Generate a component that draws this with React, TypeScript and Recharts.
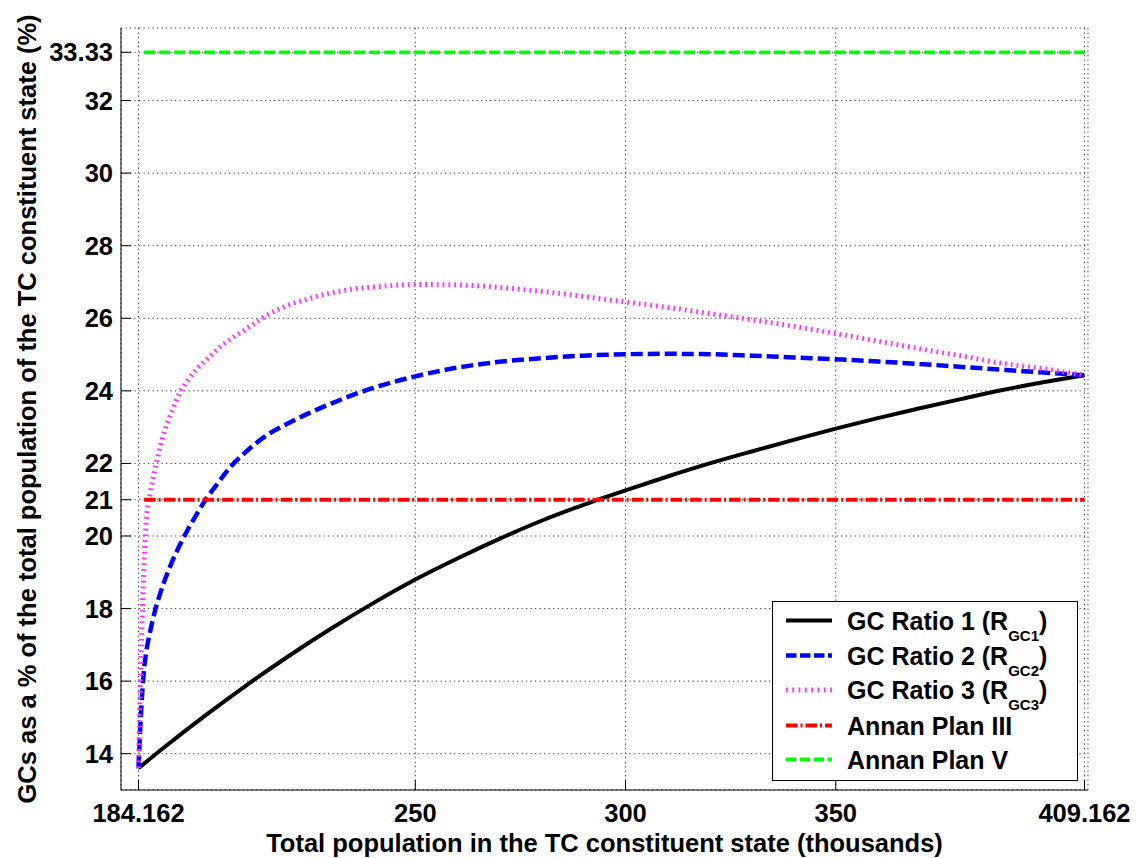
import { LineChart, Line, XAxis, YAxis, CartesianGrid, Legend } from "recharts";

const FONT = "'Liberation Sans', Arial, sans-serif";

// axis ticks
const xTicks = [184.162, 250, 300, 350, 409.162];
const xTickLabels = ["184.162", "250", "300", "350", "409.162"];
const yTicks = [14, 16, 18, 20, 21, 22, 24, 26, 28, 30, 32, 33.33];
const yTickLabels = ["14", "16", "18", "20", "21", "22", "24", "26", "28", "30", "32", "33.33"];

const xLabel = "Total population in the TC constituent state (thousands)";
const yLabel = "GCs as a % of the total population of the TC constituent state (%)";

// GC Ratio 1
const r1X = [184.162, 190, 200, 210, 220, 230, 240, 250, 260, 270, 280, 290, 300, 310, 320, 330, 340, 350, 360, 370, 380, 390, 400, 409.162];
const r1Y = [13.6, 14.15, 15.05, 15.9, 16.7, 17.45, 18.15, 18.8, 19.38, 19.92, 20.42, 20.86, 21.26, 21.64, 22.0, 22.33, 22.65, 22.96, 23.25, 23.52, 23.78, 24.03, 24.25, 24.43];

// GC Ratio 2
const r2X = [184.162, 184.5, 185, 185.5, 186, 187, 188, 189, 190, 192, 194, 196, 198, 200, 203, 206, 210, 215, 220, 225, 230, 235, 240, 250, 260, 270, 280, 290, 300, 310, 320, 330, 340, 350, 360, 370, 380, 390, 400, 409.162];
const r2Y = [13.6, 14.5, 15.6, 16.35, 16.8, 17.4, 17.9, 18.3, 18.65, 19.25, 19.75, 20.2, 20.6, 20.98, 21.45, 21.9, 22.35, 22.8, 23.12, 23.4, 23.65, 23.88, 24.08, 24.4, 24.64, 24.8, 24.9, 24.97, 25.01, 25.02, 25.01, 24.97, 24.92, 24.87, 24.81, 24.74, 24.66, 24.58, 24.5, 24.43];

// GC Ratio 3
const r3X = [184.162, 184.4, 184.7, 185, 185.5, 186, 187, 188, 189, 190, 192, 194, 196, 198, 200, 203, 206, 210, 215, 220, 225, 230, 235, 240, 250, 260, 270, 280, 290, 300, 310, 320, 330, 340, 350, 360, 370, 380, 390, 400, 409.162];
const r3Y = [13.6, 15.0, 16.5, 17.6, 19.3, 20.4, 21.2, 21.8, 22.3, 22.75, 23.4, 23.95, 24.3, 24.6, 24.82, 25.15, 25.42, 25.72, 26.1, 26.37, 26.55, 26.7, 26.8, 26.86, 26.93, 26.92, 26.85, 26.74, 26.6, 26.45, 26.3, 26.13, 25.96, 25.78, 25.58, 25.37, 25.16, 24.96, 24.75, 24.6, 24.43];

// Annan plans
const planX = [185.5, 409.162];
const planIII = 21;
const planV = 33.33;

const seriesNames = ["GC Ratio 1 (R", "GC Ratio 2 (R", "GC Ratio 3 (R", "Annan Plan III", "Annan Plan V"];
const seriesSubs = ["GC1", "GC2", "GC3", "", ""];

const toPoints = (xs: number[], ys: number[]) => xs.map((x, i) => ({ x, y: ys[i] }));

const seriesData = [
  toPoints(r1X, r1Y),
  toPoints(r2X, r2Y),
  toPoints(r3X, r3Y),
  planX.map((x) => ({ x, y: planIII })),
  planX.map((x) => ({ x, y: planV })),
];

const styles = [
  { color: "#000000", dash: undefined, width: 4, legendDash: undefined },
  { color: "#0000ff", dash: "12 5", width: 4.5, legendDash: "10.5 3.5" },
  { color: "#ff33ff", dash: "1.8 4", width: 5, legendDash: "1.8 4.5" },
  { color: "#ff0000", dash: "11.5 3 2 3", width: 4, legendDash: "11.5 3 2 3" },
  { color: "#00ff00", dash: "11 4", width: 3.8, legendDash: "10 4" },
];

const TICK_LEN = 10;

const BottomTick = (props: any) => {
  const { x, y, payload } = props;
  const i = xTicks.indexOf(payload.value);
  return (
    <g>
      <line x1={x} x2={x} y1={y} y2={y - TICK_LEN} stroke="#000" />
      <text x={x} y={y + 31.5} textAnchor="middle" fontFamily={FONT} fontSize={25.5} fontWeight="bold" fill="#000">
        {i >= 0 ? xTickLabels[i] : String(payload.value)}
      </text>
    </g>
  );
};

const TopTick = (props: any) => {
  const { x, y } = props;
  return <line x1={x} x2={x} y1={y} y2={y + TICK_LEN} stroke="#000" />;
};

const LeftTick = (props: any) => {
  const { x, y, payload } = props;
  const i = yTicks.indexOf(payload.value);
  return (
    <g>
      <line x1={x} x2={x + TICK_LEN} y1={y} y2={y} stroke="#000" />
      <text x={x - 8} y={y + 9} textAnchor="end" fontFamily={FONT} fontSize={25.5} fontWeight="bold" fill="#000">
        {i >= 0 ? yTickLabels[i] : String(payload.value)}
      </text>
    </g>
  );
};

const RightTick = (props: any) => {
  const { x, y } = props;
  return <line x1={x} x2={x - TICK_LEN} y1={y} y2={y} stroke="#000" />;
};

const renderXLabel = (props: any) => {
  const vb = props.viewBox;
  return (
    <text x={vb.x + vb.width / 2} y={vb.y + 62} textAnchor="middle" fontFamily={FONT} fontSize={25.5} fontWeight="bold" fill="#000">
      {xLabel}
    </text>
  );
};

const renderYLabel = (props: any) => {
  const vb = props.viewBox;
  const cx = 27;
  const cy = vb.y + vb.height / 2;
  return (
    <text x={cx} y={cy} transform={`rotate(-90 ${cx} ${cy})`} textAnchor="middle" dominantBaseline="central" fontFamily={FONT} fontSize={25.5} fontWeight="bold" fill="#000">
      {yLabel}
    </text>
  );
};

const ROW_Y = [19.5, 54.5, 89, 124.5, 158.5];

const LegendBox = () => (
  <svg width={306} height={180} style={{ display: "block" }}>
    <rect x={0.5} y={0.5} width={305} height={179} fill="#fff" stroke="#000" />
    {seriesNames.map((name, i) => {
      const cy = ROW_Y[i];
      const s = styles[i];
      return (
        <g key={name}>
          <line x1={14} x2={60} y1={cy} y2={cy} stroke={s.color} strokeWidth={s.width} strokeDasharray={s.legendDash} />
          <text x={75} y={cy + 9} fontFamily={FONT} fontSize={25} fontWeight="bold" fill="#000">
            {name}
            {seriesSubs[i] ? (
              <>
                <tspan fontSize={15} dy={11}>{seriesSubs[i]}</tspan>
                <tspan dy={-11}>)</tspan>
              </>
            ) : null}
          </text>
        </g>
      );
    })}
  </svg>
);

export default function App() {
  return (
    <div style={{ position: "absolute", left: 0, top: 0, background: "#fff" }}>
      <LineChart width={1140} height={858} margin={{ top: 28, right: 52, bottom: 0, left: 0 }}>
        <CartesianGrid stroke="#444" strokeDasharray="1.3 3.2" />
        <XAxis
          dataKey="x"
          type="number"
          domain={[180, 410]}
          ticks={xTicks}
          interval={0}
          height={68}
          tickSize={0}
          tickMargin={0}
          tickLine={false}
          axisLine={{ stroke: "#000" }}
          tick={<BottomTick />}
          label={{ content: renderXLabel }}
        />
        <XAxis
          xAxisId="top"
          orientation="top"
          type="number"
          domain={[180, 410]}
          ticks={xTicks}
          interval={0}
          height={0}
          tickSize={0}
          tickMargin={0}
          tickLine={false}
          axisLine={{ stroke: "#000" }}
          tick={<TopTick />}
        />
        <YAxis
          type="number"
          domain={[13, 34]}
          ticks={yTicks}
          interval={0}
          width={121}
          tickSize={0}
          tickMargin={0}
          tickLine={false}
          axisLine={{ stroke: "#000" }}
          tick={<LeftTick />}
          label={{ content: renderYLabel }}
        />
        <YAxis
          yAxisId="right"
          orientation="right"
          type="number"
          domain={[13, 34]}
          ticks={yTicks}
          interval={0}
          width={0}
          tickSize={0}
          tickMargin={0}
          tickLine={false}
          axisLine={{ stroke: "#000" }}
          tick={<RightTick />}
        />
        {seriesData.map((d, i) => (
          <Line
            key={seriesNames[i]}
            data={d}
            dataKey="y"
            name={seriesNames[i]}
            type="monotone"
            stroke={styles[i].color}
            strokeWidth={styles[i].width}
            strokeDasharray={styles[i].dash}
            dot={false}
            activeDot={false}
            isAnimationActive={false}
          />
        ))}
        <Legend
          layout="vertical"
          align="center"
          verticalAlign="middle"
          content={<LegendBox />}
          wrapperStyle={{ left: 772, top: 601, width: 306, height: 180 }}
        />
      </LineChart>
    </div>
  );
}
